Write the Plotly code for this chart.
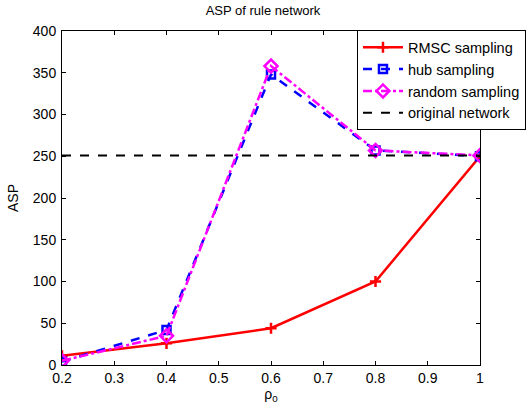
import plotly.graph_objects as go

rho = [0.2, 0.4, 0.6, 0.8, 1.0]
rmsc = [11, 26, 44, 100, 250]
hub = [4, 42, 348, 257, 250]
random_s = [5, 35, 358, 257, 251]
original = 251

FONT = "Liberation Sans, Arial, Helvetica, sans-serif"

fig = go.Figure()
fig.add_trace(go.Scatter(
    x=rho, y=rmsc, name="RMSC sampling", mode="lines+markers",
    line=dict(color="#ff0000", width=2.5),
    marker=dict(symbol="cross-thin-open", size=8, line=dict(color="#ff0000", width=2.5)),
))
fig.add_trace(go.Scatter(
    x=rho, y=hub, name="hub sampling", mode="lines+markers",
    line=dict(color="#0000ff", width=2.5, dash="dash"),
    marker=dict(symbol="square-open", size=8, line=dict(color="#0000ff", width=2.5)),
))
fig.add_trace(go.Scatter(
    x=rho, y=random_s, name="random sampling", mode="lines+markers",
    line=dict(color="#ff00ff", width=2.5, dash="dashdot"),
    marker=dict(symbol="diamond-open", size=10, line=dict(color="#ff00ff", width=2.5)),
))
fig.add_trace(go.Scatter(
    x=[rho[0], rho[-1]], y=[original, original], name="original network", mode="lines",
    line=dict(color="#000000", width=2, dash="dash"),
))

axis_common = dict(
    showline=True, linecolor="black", linewidth=1, mirror="ticks",
    ticks="inside", ticklen=4, tickcolor="black", showgrid=False, zeroline=False,
    tickfont=dict(family=FONT, size=14, color="black"),
)

fig.update_layout(
    width=526, height=411,
    margin=dict(l=62, r=46, t=31, b=46, autoexpand=False),
    paper_bgcolor="white", plot_bgcolor="white",
    title=dict(text="ASP of rule network", x=0.5, xanchor="center", y=0.985, yanchor="top",
               font=dict(family=FONT, size=13, color="black")),
    xaxis=dict(range=[0.2, 1.0], dtick=0.1, tickformat=".1~f",
               title=dict(text="ρ<sub>0</sub>", standoff=2, font=dict(family=FONT, size=14, color="black")),
               **axis_common),
    yaxis=dict(range=[0, 400], dtick=50, ticklabelstandoff=2,
               title=dict(text="ASP", standoff=10, font=dict(family=FONT, size=14, color="black")),
               **axis_common),
    legend=dict(x=1.11, y=1.002, xanchor="right", yanchor="top",
                bordercolor="black", borderwidth=1, bgcolor="white",
                font=dict(family=FONT, size=14.5, color="black"),
                tracegroupgap=0, itemwidth=40),
    showlegend=True,
)

fig.write_html("out.html")
